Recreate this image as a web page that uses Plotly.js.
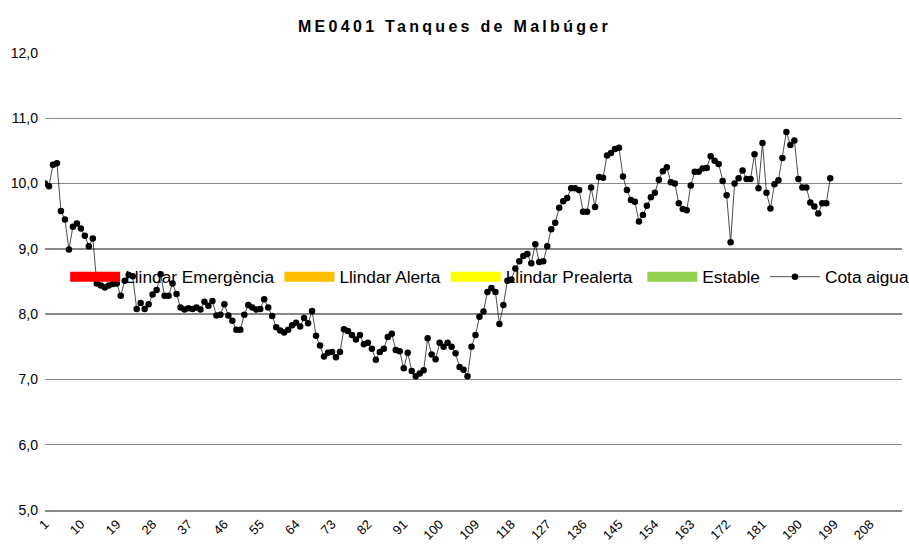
<!DOCTYPE html>
<html>
<head>
<meta charset="utf-8">
<script src="https://cdn.plot.ly/plotly-3.0.1.min.js"></script>
<style>
html,body{margin:0;padding:0;background:#fff;}
#chart{width:909px;height:544px;}
.g-gtitle text, .g-gtitle tspan{letter-spacing:3.3px !important;}
</style>
</head>
<body>
<div id="chart"></div>
<script>
// ---- data ----
var chartTitle = "ME0401 Tanques de Malbúger";
var cotaAigua = [
  10.00, 9.96, 10.29, 10.31, 9.58, 9.45, 8.99, 9.34, 9.39, 9.31,
  9.20, 9.04, 9.16, 8.47, 8.44, 8.41, 8.44, 8.46, 8.47, 8.28,
  8.51, 8.60, 8.58, 8.08, 8.17, 8.08, 8.15, 8.30, 8.37, 8.61,
  8.28, 8.28, 8.47, 8.31, 8.10, 8.07, 8.09, 8.08, 8.10, 8.07,
  8.19, 8.13, 8.20, 7.98, 7.99, 8.15, 7.98, 7.90, 7.76, 7.76,
  7.99, 8.14, 8.10, 8.07, 8.08, 8.23, 8.10, 7.97, 7.80, 7.75,
  7.72, 7.76, 7.83, 7.87, 7.81, 7.94, 7.86, 8.05, 7.67, 7.52,
  7.35, 7.41, 7.42, 7.34, 7.42, 7.77, 7.74, 7.68, 7.61, 7.68,
  7.54, 7.56, 7.47, 7.30, 7.42, 7.47, 7.65, 7.70, 7.45, 7.43,
  7.17, 7.41, 7.13, 7.05, 7.09, 7.14, 7.63, 7.38, 7.31, 7.56,
  7.50, 7.56, 7.50, 7.40, 7.19, 7.15, 7.05, 7.50, 7.68, 7.96,
  8.04, 8.34, 8.40, 8.34, 7.85, 8.14, 8.51, 8.53, 8.70, 8.81,
  8.89, 8.92, 8.78, 9.07, 8.80, 8.81, 9.04, 9.30, 9.40, 9.63,
  9.73, 9.78, 9.93, 9.93, 9.90, 9.57, 9.57, 9.94, 9.64, 10.10,
  10.09, 10.43, 10.47, 10.53, 10.55, 10.11, 9.90, 9.75, 9.72, 9.42,
  9.52, 9.66, 9.79, 9.86, 10.06, 10.19, 10.25, 10.02, 10.00, 9.70,
  9.61, 9.59, 9.97, 10.18, 10.18, 10.23, 10.24, 10.42, 10.35, 10.30,
  10.04, 9.82, 9.10, 10.00, 10.08, 10.20, 10.07, 10.07, 10.45, 9.93,
  10.62, 9.86, 9.62, 9.99, 10.05, 10.39, 10.79, 10.59, 10.66, 10.07,
  9.94, 9.94, 9.71, 9.65, 9.54, 9.70, 9.70, 10.08
];
var categories = cotaAigua.map(function(v, i){ return i + 1; });
var lastCategory = 216;
var xTickVals = [1,10,19,28,37,46,55,64,73,82,91,100,109,118,127,136,145,154,163,172,181,190,199,208];
var xTickText = ["1","10","19","28","37","46","55","64","73","82","91","100","109","118","127","136","145","154","163","172","181","190","199","208"];
var yTickVals = [5,6,7,8,9,10,11,12];
var thresholdNames = ["Llindar Emergència","Llindar Alerta","Llindar Prealerta","Estable"];
var thresholdColors = ["#ff0000","#ffbf00","#ffff00","#92d050"];
var thresholdLegend = ["legend","legend","legend","legend2"];
var seriesName = "Cota aigua";

// ---- traces ----
var traces = [];
for (var i = 0; i < thresholdNames.length; i++) {
  traces.push({
    type: "scatter", mode: "lines", name: thresholdNames[i],
    legend: thresholdLegend[i],
    x: [null], y: [null],
    line: {color: thresholdColors[i], width: 11},
    hoverinfo: "skip"
  });
}
traces.push({
  type: "scatter", mode: "lines+markers", name: seriesName,
  legend: "legend2",
  x: categories, y: cotaAigua,
  line: {color: "#000000", width: 0.7},
  marker: {color: "#000000", size: 6.5}
});

var legendBase = {
  orientation: "h", xanchor: "left", y: 0.51, yanchor: "middle",
  bgcolor: "rgba(0,0,0,0)", borderwidth: 0,
  font: {size: 17.3, color: "#000000"},
  itemwidth: 50, itemclick: false, itemdoubleclick: false,
  tracegroupgap: 0
};
var legend1 = Object.assign({}, legendBase, {x: 0.0235});
var legend2 = Object.assign({}, legendBase, {x: 0.697});

var layout = {
  width: 909, height: 544,
  paper_bgcolor: "#ffffff", plot_bgcolor: "#ffffff",
  margin: {l: 45, r: 7, t: 53, b: 34, autoexpand: false},
  separators: ",.",
  font: {family: "Liberation Sans, Arial, sans-serif", color: "#000000"},
  title: {
    text: "<b>" + chartTitle + "</b>",
    x: 0.5, xref: "container", xanchor: "center",
    y: 19, yref: "container", yanchor: "middle",
    font: {family: "Liberation Sans, Arial, sans-serif", size: 16, color: "#000000"}
  },
  showlegend: true,
  legend: legend1,
  legend2: legend2,
  xaxis: {
    type: "linear", range: [1, lastCategory],
    tickmode: "array", tickvals: xTickVals, ticktext: xTickText,
    tickangle: -45, tickfont: {size: 13, color: "#000000"},
    ticklabelstandoff: 0, automargin: false,
    showgrid: false, zeroline: false,
    showline: true, linecolor: "#888888", linewidth: 1.5,
    ticks: "", ticklen: 0
  },
  yaxis: {
    range: [5, 12], tickmode: "array", tickvals: yTickVals,
    tickformat: ".1f", tickfont: {size: 14, color: "#000000"},
    ticklabelstandoff: 6, automargin: false,
    showgrid: true, gridcolor: "#888888", gridwidth: 1.5,
    zeroline: false, showline: false, ticks: "", ticklen: 0
  }
};

Plotly.newPlot("chart", traces, layout, {displayModeBar: false, staticPlot: true});
</script>
</body>
</html>
